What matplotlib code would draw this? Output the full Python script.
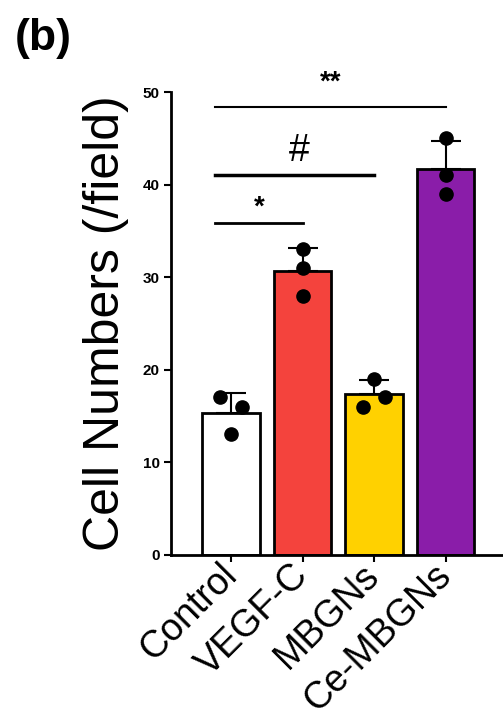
import numpy as np
import matplotlib.pyplot as plt

plt.rcParams['font.family'] = ['Liberation Sans', 'DejaVu Sans']

groups = ["Control", "VEGF-C", "MBGNs", "Ce-MBGNs"]
control = [17, 16, 13]
vegf_c = [33, 31, 28]
mbgns = [19, 17, 16]
ce_mbgns = [45, 41, 39]
replicates = [control, vegf_c, mbgns, ce_mbgns]

colors = ["#ffffff", "#f4433d", "#ffd100", "#8a1da9"]
# horizontal spread of the dots inside each bar
offsets = [[-0.15, 0.15, 0.0], [0.0, 0.0, 0.0], [0.0, 0.15, -0.15], [0.0, 0.0, 0.0]]

# significance brackets: label, index of compared group, line height
sig_labels = ["*", "#", "**"]
sig_targets = [1, 2, 3]
sig_heights = [35.8, 41.0, 48.4]

means = [np.mean(r) for r in replicates]
sds = [np.std(r, ddof=1) for r in replicates]
x = np.arange(len(groups))

fig = plt.figure(figsize=(5.03, 7.11), dpi=100)
ax = fig.add_axes([0.340, 0.220, 0.688, 0.6505])

ax.bar(x, means, width=0.8, color=colors, edgecolor="black", linewidth=2, zorder=2)
ax.errorbar(x, means, yerr=[np.zeros(len(sds)), sds], fmt="none", ecolor="black",
            elinewidth=1.5, capsize=11, capthick=1.5, zorder=3)
for i, r in enumerate(replicates):
    ax.plot(x[i] + np.array(offsets[i]), r, "o", color="black", markersize=9.5,
            zorder=4, clip_on=False)

ax.set_xlim(-0.84, 4.0)
ax.set_ylim(0, 50)
ax.set_yticks([0, 10, 20, 30, 40, 50])
ax.set_yticklabels(["0", "10", "20", "30", "40", "50"], fontsize=11, fontweight="bold")
ax.set_xticks(x)
ax.set_xticklabels(groups, fontsize=27, rotation=45, ha="right", va="center",
                   rotation_mode="anchor")
ax.tick_params(axis="both", width=1.5, length=5, direction="out", pad=3)
ax.tick_params(axis="x", pad=6)

for s in ["top", "right"]:
    ax.spines[s].set_visible(False)
ax.spines["left"].set_linewidth(2)
ax.spines["bottom"].set_linewidth(2)

ax.set_ylabel("Cell Numbers (/field)", fontsize=36, labelpad=10)

lws = [2.0, 2.5, 1.5]
text_y = [38.1, 43.6, 51.6]
for lab, t, h, lw, ty in zip(sig_labels, sig_targets, sig_heights, lws, text_y):
    ax.plot([-0.22, x[t]], [h, h], color="black", linewidth=lw, clip_on=False)
    xc = (-0.22 + x[t]) / 2
    if lab == "#":
        ax.text(xc + 0.06, ty, lab, ha="center", va="center", fontsize=27)
    else:
        ax.text(xc, ty - 0.6, lab, ha="center", va="center", fontsize=20,
                fontweight="bold")

fig.text(0.03, 0.975, "(b)", fontsize=32, fontweight="bold", ha="left", va="top")

fig.savefig("out.png", dpi=100)
